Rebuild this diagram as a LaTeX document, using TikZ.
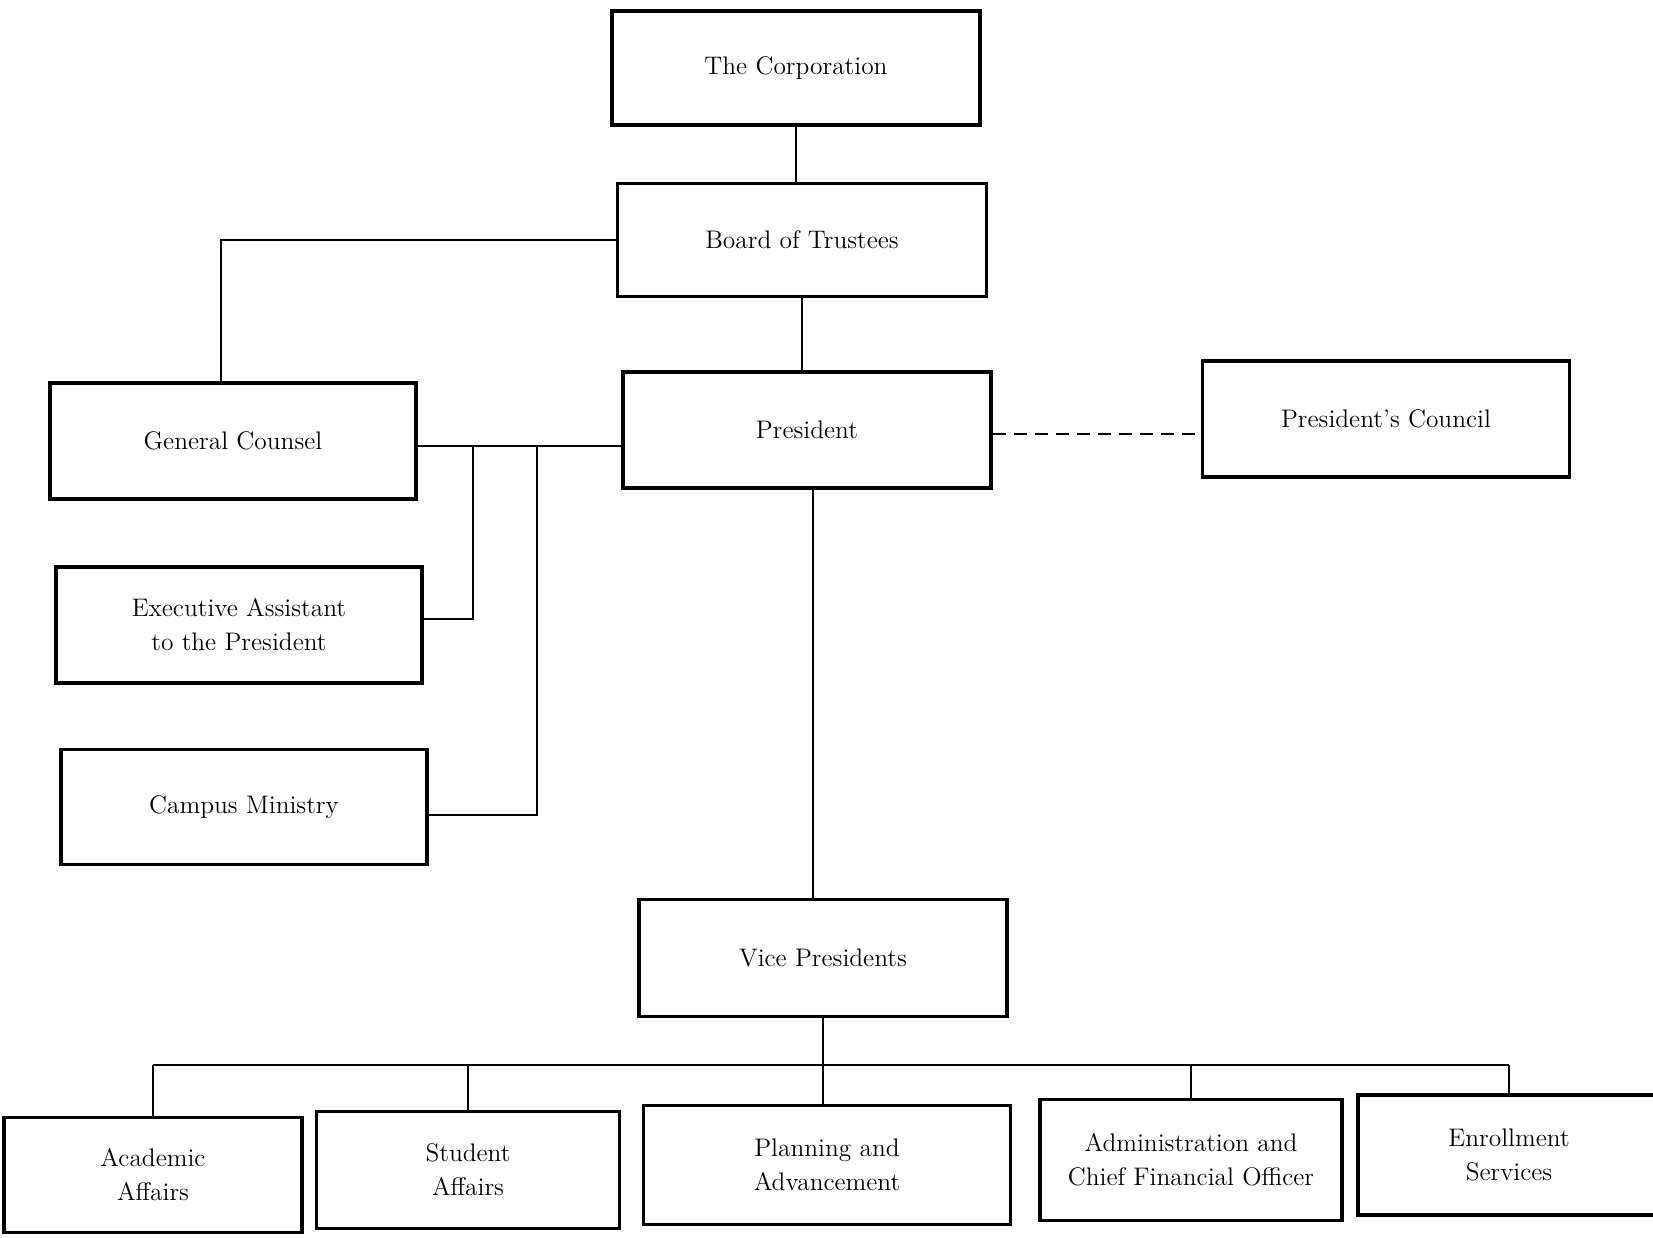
\documentclass[tikz,border=0pt]{standalone}
\usetikzlibrary{calc}
\begin{document}
\begin{tikzpicture}[x=0.5pt,y=-0.5pt,
  box/.style={draw,line width=1.7pt,align=center,inner sep=0pt,
    font=\fontsize{12.7}{17}\selectfont},
  link/.style={line width=1.4pt}]
\useasboundingbox (0,0) rectangle (1653,1237);
% boxes
\node[box,minimum width=184pt,minimum height=57pt]   (corp)    at (796,68)   {The Corporation};
\node[box,minimum width=184.5pt,minimum height=56.5pt] (board) at (802,240)  {Board of Trustees};
\node[box,minimum width=184pt,minimum height=58pt]   (pres)    at (807,430)  {President};
\node[box,minimum width=183.5pt,minimum height=58pt] (council) at (1386,419) {President's Council};
\node[box,minimum width=183pt,minimum height=58pt]   (gc)      at (233,441)  {General Counsel};
\node[box,minimum width=183pt,minimum height=58pt]   (ea)      at (239,625)  {Executive Assistant\\to the President};
\node[box,minimum width=183pt,minimum height=57.5pt] (cm)      at (244,807)  {Campus Ministry};
\node[box,minimum width=184pt,minimum height=58.5pt] (vp)      at (823,958)  {Vice Presidents};
\node[box,minimum width=149pt,minimum height=57.5pt] (aa)      at (153,1175) {Academic\\Affairs};
\node[box,minimum width=151.5pt,minimum height=58.5pt] (sa)    at (468,1170) {Student\\Affairs};
\node[box,minimum width=183.5pt,minimum height=59.5pt] (pa)    at (827,1165) {Planning and\\Advancement};
\node[box,minimum width=151pt,minimum height=60.5pt] (ad)      at (1191,1160) {Administration and\\Chief Financial Officer};
\node[box,minimum width=151pt,minimum height=60pt]   (es)      at (1509,1155) {Enrollment\\Services};
% connectors
\draw[link] (corp.south) -- (corp.south |- board.north);
\draw[link] (board.south) -- (board.south |- pres.north);
\draw[link] (board.west) -| ([xshift=-6pt]gc.north);
\draw[link] ([yshift=-2.5pt]gc.east) -- ([yshift=-2.5pt]gc.east -| pres.west);
\coordinate (j1) at (473,446);
\coordinate (j2) at (537,446);
\draw[link] ([yshift=3pt]ea.east) -| (j1);
\draw[link] ([yshift=-4pt]cm.east) -| (j2);
\draw[link,dash pattern=on 6.5pt off 4pt] ([yshift=-2pt]pres.east) -- ([yshift=-2pt]pres.east -| council.west);
\draw[link] ([xshift=3pt]pres.south) -- ([xshift=3pt]pres.south |- vp.north);
\coordinate (bus) at (0,1065);
\draw[link] (vp.south) -- (vp.south |- pa.north);
\draw[link] (aa.north |- bus) -- (es.north |- bus);
\draw[link] (aa.north |- bus) -- (aa.north);
\draw[link] (sa.north |- bus) -- (sa.north);
\draw[link] (ad.north |- bus) -- (ad.north);
\draw[link] (es.north |- bus) -- (es.north);
\end{tikzpicture}
\end{document}
